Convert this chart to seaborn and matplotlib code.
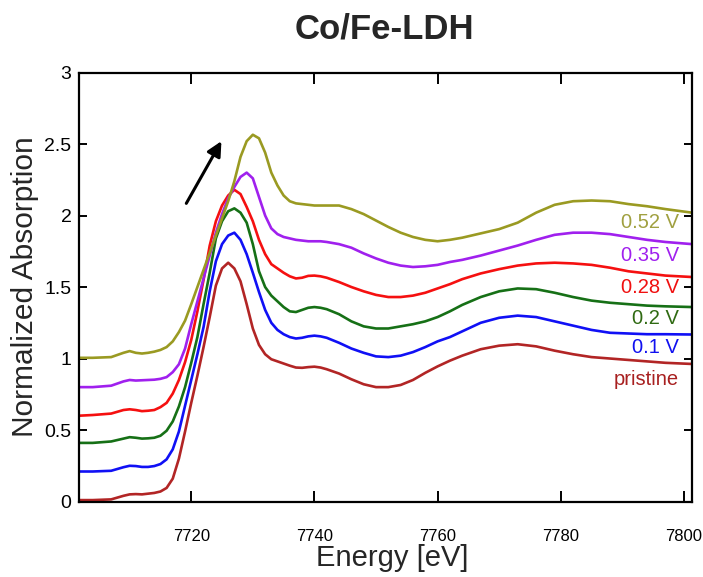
import matplotlib
matplotlib.use("Agg")
import matplotlib.pyplot as plt
import pandas as pd
import seaborn as sns

# Co K-edge XANES of Co/Fe-LDH at increasing potentials (curves stacked by +0.2)
energy = [7701.7, 7704, 7707, 7709, 7710, 7711, 7712, 7713, 7714, 7715,
          7716, 7717, 7718, 7719, 7720, 7721, 7722, 7723, 7724, 7725,
          7726, 7727, 7728, 7729, 7730, 7731, 7732, 7733, 7734, 7735,
          7736, 7737, 7738, 7739, 7740, 7741, 7742, 7744, 7746, 7748,
          7750, 7752, 7754, 7756, 7758, 7760, 7762, 7764, 7767, 7770,
          7773, 7776, 7779, 7782, 7785, 7788, 7791, 7794, 7797, 7801.3]

pristine = [0.010, 0.010, 0.015, 0.040, 0.050, 0.052, 0.050, 0.055, 0.060, 0.070,
            0.095, 0.160, 0.300, 0.490, 0.690, 0.880, 1.080, 1.290, 1.510, 1.630,
            1.670, 1.630, 1.540, 1.380, 1.210, 1.095, 1.030, 0.995, 0.980, 0.965,
            0.950, 0.937, 0.935, 0.940, 0.943, 0.937, 0.925, 0.895, 0.855, 0.820,
            0.800, 0.800, 0.815, 0.850, 0.900, 0.945, 0.985, 1.020, 1.065, 1.090,
            1.100, 1.085, 1.055, 1.030, 1.010, 1.000, 0.990, 0.980, 0.970, 0.962]

v_0_10 = [0.210, 0.210, 0.215, 0.240, 0.250, 0.248, 0.242, 0.242, 0.248, 0.262,
          0.295, 0.365, 0.490, 0.670, 0.850, 1.030, 1.220, 1.470, 1.680, 1.800,
          1.860, 1.880, 1.830, 1.730, 1.600, 1.465, 1.340, 1.250, 1.200, 1.170,
          1.150, 1.140, 1.145, 1.155, 1.160, 1.155, 1.145, 1.110, 1.070, 1.040,
          1.015, 1.010, 1.020, 1.045, 1.080, 1.120, 1.150, 1.190, 1.250, 1.285,
          1.300, 1.290, 1.260, 1.230, 1.200, 1.180, 1.175, 1.170, 1.170, 1.168]

v_0_20 = [0.410, 0.410, 0.420, 0.440, 0.450, 0.446, 0.440, 0.442, 0.446, 0.460,
          0.495, 0.560, 0.665, 0.800, 0.970, 1.150, 1.380, 1.600, 1.840, 1.960,
          2.030, 2.050, 2.020, 1.950, 1.800, 1.610, 1.500, 1.440, 1.400, 1.360,
          1.330, 1.325, 1.340, 1.355, 1.360, 1.355, 1.345, 1.310, 1.260, 1.225,
          1.210, 1.210, 1.225, 1.240, 1.260, 1.290, 1.330, 1.375, 1.430, 1.470,
          1.490, 1.485, 1.460, 1.430, 1.405, 1.390, 1.380, 1.370, 1.365, 1.360]

v_0_28 = [0.600, 0.605, 0.615, 0.640, 0.645, 0.640, 0.632, 0.635, 0.640, 0.660,
          0.690, 0.755, 0.850, 0.975, 1.130, 1.330, 1.550, 1.790, 1.960, 2.070,
          2.140, 2.180, 2.150, 2.060, 1.960, 1.830, 1.730, 1.660, 1.630, 1.600,
          1.575, 1.560, 1.565, 1.578, 1.580, 1.575, 1.565, 1.535, 1.500, 1.470,
          1.445, 1.430, 1.430, 1.440, 1.460, 1.490, 1.520, 1.555, 1.595, 1.625,
          1.650, 1.665, 1.670, 1.665, 1.655, 1.635, 1.610, 1.595, 1.580, 1.570]

v_0_35 = [0.800, 0.800, 0.810, 0.840, 0.850, 0.846, 0.848, 0.850, 0.852, 0.858,
          0.870, 0.905, 0.960, 1.070, 1.240, 1.400, 1.560, 1.720, 1.880, 2.010,
          2.120, 2.200, 2.270, 2.300, 2.260, 2.130, 2.000, 1.910, 1.870, 1.850,
          1.840, 1.830, 1.825, 1.820, 1.820, 1.820, 1.815, 1.800, 1.775, 1.735,
          1.700, 1.670, 1.650, 1.640, 1.645, 1.655, 1.675, 1.690, 1.720, 1.755,
          1.790, 1.830, 1.865, 1.880, 1.880, 1.870, 1.850, 1.830, 1.815, 1.800]

v_0_52 = [1.005, 1.005, 1.010, 1.040, 1.052, 1.040, 1.035, 1.040, 1.048, 1.060,
          1.080, 1.120, 1.185, 1.265, 1.380, 1.500, 1.620, 1.740, 1.860, 1.980,
          2.100, 2.240, 2.410, 2.520, 2.565, 2.540, 2.440, 2.300, 2.210, 2.140,
          2.100, 2.085, 2.080, 2.075, 2.070, 2.070, 2.070, 2.070, 2.045, 2.010,
          1.965, 1.920, 1.880, 1.850, 1.830, 1.820, 1.830, 1.845, 1.875, 1.905,
          1.950, 2.020, 2.075, 2.100, 2.105, 2.100, 2.080, 2.065, 2.045, 2.020]

sample_names = ["pristine", "0.1 V", "0.2 V", "0.28 V", "0.35 V", "0.52 V"]
sample_curves = [pristine, v_0_10, v_0_20, v_0_28, v_0_35, v_0_52]
line_colors = ["#b22525", "#1010f5", "#167016", "#f51010", "#a020ee", "#9a9a22"]
text_colors = ["#a82020", "#1010f0", "#2f6a12", "#f01010", "#a020ee", "#a0a040"]
text_levels = [0.855, 1.075, 1.28, 1.495, 1.72, 1.95]

x_ticks = [7720, 7740, 7760, 7780, 7800]
y_ticks = [0, 0.5, 1, 1.5, 2, 2.5, 3]
y_ticklabels = ["0", "0.5", "1", "1.5", "2", "2.5", "3"]

frames = [pd.DataFrame({"Energy": energy, "Absorption": curve, "Sample": name})
          for name, curve in zip(sample_names, sample_curves)]
df = pd.concat(frames, ignore_index=True)

sns.set_theme(style="ticks")
plt.rcParams["font.family"] = ["Liberation Sans", "DejaVu Sans"]

fig = plt.figure(figsize=(7.03, 5.77), dpi=100)
ax = fig.add_axes([0.1117, 0.1308, 0.8726, 0.7435])

sns.lineplot(data=df, x="Energy", y="Absorption", hue="Sample",
             hue_order=sample_names,
             palette=dict(zip(sample_names, line_colors)),
             linewidth=1.9, legend=False, errorbar=None, ax=ax)

ax.set_xlim(7701.7, 7801.3)
ax.set_ylim(0, 3)
ax.set_xticks(x_ticks)
ax.set_xticklabels([str(t) for t in x_ticks], fontsize=12)
ax.set_yticks(y_ticks)
ax.set_yticklabels(y_ticklabels, fontsize=14)

for side in ["left", "right", "top", "bottom"]:
    ax.spines[side].set_visible(True)
    ax.spines[side].set_linewidth(1.6)
    ax.spines[side].set_color("black")

ax.tick_params(axis="x", direction="in", length=8, width=1.4, top=True,
               bottom=True, pad=20, colors="black")
ax.tick_params(axis="y", direction="in", length=6, width=1.4, left=True,
               right=True, pad=5, colors="black")

ax.set_xlabel("Energy [eV]", fontsize=21, labelpad=0)
ax.xaxis.label.set_x(0.511)
ax.set_ylabel("Normalized Absorption", fontsize=21.5, labelpad=4)
fig.suptitle("Co/Fe-LDH", x=0.547, y=0.978, fontsize=25, fontweight="bold")

for name, color, level in zip(sample_names, text_colors, text_levels):
    ax.text(7799.2, level, name, color=color, fontsize=14.5,
            ha="right", va="center")

ax.annotate("", xy=(7724.9, 2.52), xytext=(7719.2, 2.085),
            arrowprops=dict(arrowstyle="-|>", color="black", lw=2.2,
                            mutation_scale=22, shrinkA=0, shrinkB=0))

fig.savefig("out.png", dpi=100, facecolor="white")
